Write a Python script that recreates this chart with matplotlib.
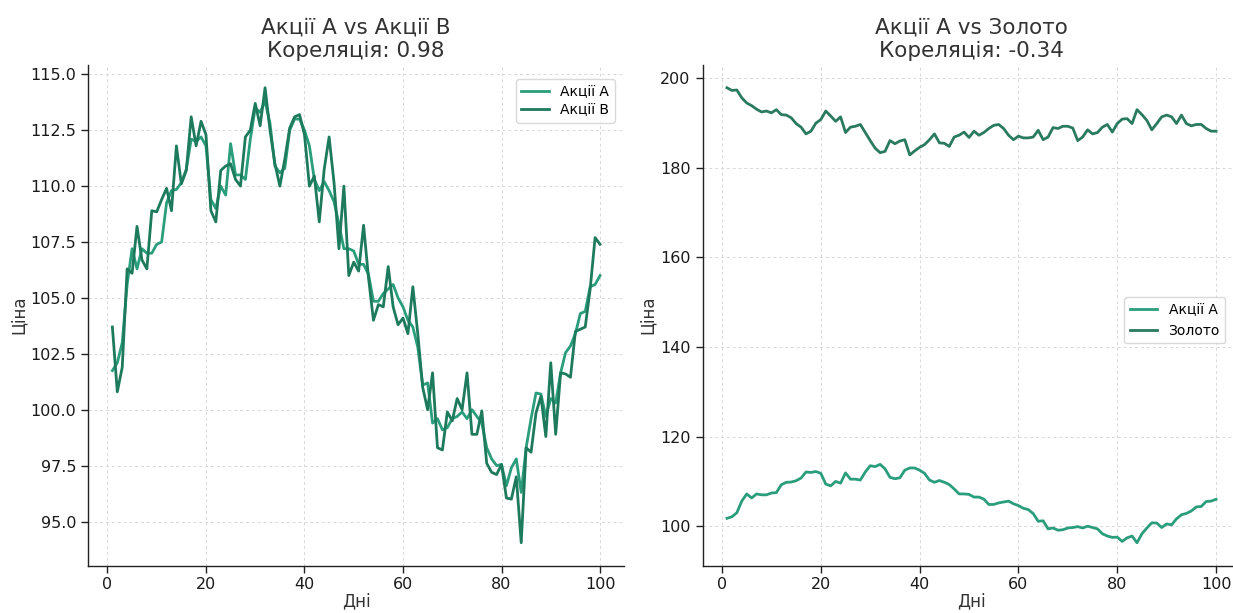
import numpy as np
import matplotlib
matplotlib.use("Agg")
import matplotlib.pyplot as plt

days = list(range(1, 101))

stock_a = [
    101.75, 102.1, 103.0, 105.6, 107.2, 106.3, 107.2, 107.0, 107.0, 107.4,
    107.5, 109.25, 109.8, 109.85, 110.15, 110.75, 112.1, 112.0, 112.2, 111.8,
    109.4, 109.0, 110.0, 109.6, 111.9, 110.5, 110.5, 110.3, 112.1, 113.5,
    113.3, 113.8, 112.8, 110.9, 110.6, 110.8, 112.5, 113.0, 113.0, 112.5,
    111.8, 110.3, 109.8, 110.2, 109.8, 109.3, 108.3, 107.2, 107.2, 107.1,
    106.5, 106.5, 106.05, 104.85, 104.85, 105.2, 105.4, 105.6, 105.0, 104.6,
    104.0, 103.7, 102.8, 101.1, 101.2, 99.4, 99.6, 99.1, 99.2, 99.6,
    99.7, 99.9, 99.6, 100.0, 99.7, 99.4, 98.3, 97.8, 97.5, 97.55,
    96.6, 97.4, 97.8, 96.3, 98.3, 99.6, 100.75, 100.7, 99.7, 100.5,
    100.3, 101.65, 102.55, 102.85, 103.4, 104.3, 104.4, 105.5, 105.6, 106.0,
]

stock_b = [
    103.7, 100.8, 101.9, 106.3, 106.1, 108.2, 106.7, 106.3, 108.9, 108.85,
    109.4, 109.9, 108.9, 111.8, 110.1, 110.7, 113.1, 111.8, 112.9, 112.3,
    108.9, 108.4, 110.7, 110.9, 111.0, 110.3, 110.0, 112.2, 112.5, 113.7,
    112.7, 114.4, 112.5, 111.0, 110.0, 111.2, 112.6, 113.1, 113.2, 112.3,
    110.0, 110.45, 108.4, 110.75, 112.2, 110.15, 107.2, 110.0, 106.0, 106.6,
    106.2, 108.25, 105.9, 104.0, 104.7, 104.6, 106.4, 104.6, 103.8, 104.1,
    103.4, 105.5, 103.4, 101.0, 100.0, 101.65, 98.3, 98.2, 99.9, 99.5,
    100.5, 100.0, 101.65, 98.9, 98.9, 99.95, 97.6, 97.2, 97.1, 97.55,
    96.05, 96.0, 97.0, 94.05, 98.3, 98.1, 99.85, 100.6, 98.8, 102.1,
    98.9, 101.65, 101.6, 101.45, 103.5, 103.6, 103.7, 105.4, 107.7, 107.4,
]

gold = [
    197.9, 197.3, 197.4, 195.65, 194.5, 193.9, 193.1, 192.5, 192.7, 192.3,
    193.0, 191.9, 191.8, 191.2, 189.9, 189.1, 187.6, 188.2, 190.0, 190.8,
    192.7, 191.6, 190.4, 191.4, 187.9, 189.1, 189.3, 189.7, 187.9, 186.1,
    184.4, 183.4, 183.7, 186.1, 185.4, 186.0, 186.3, 182.9, 183.8, 184.6,
    185.2, 186.3, 187.6, 185.6, 185.5, 184.8, 186.9, 187.3, 188.0, 186.8,
    188.2, 187.3, 187.9, 188.8, 189.5, 189.7, 188.8, 187.3, 186.3, 187.1,
    186.7, 186.7, 186.9, 188.4, 186.3, 186.9, 189.0, 188.8, 189.3, 189.3,
    188.9, 186.1, 186.9, 188.5, 187.6, 187.9, 189.1, 189.7, 188.0, 189.9,
    190.9, 191.0, 189.9, 193.0, 191.9, 190.6, 188.5, 189.9, 191.4, 191.8,
    191.4, 189.9, 191.8, 189.9, 189.4, 189.7, 189.7, 188.8, 188.2, 188.2,
]

label_a = "Акції A"
label_b = "Акції B"
label_gold = "Золото"
title_left = "Акції A vs Акції B\nКореляція: 0.98"
title_right = "Акції A vs Золото\nКореляція: -0.34"
xlabel = "Дні"
ylabel = "Ціна"

col_a = "#2a9d7c"
col_b = "#1d7a5c"
col_gold = "#2a7a60"

plt.rcParams['font.family'] = ['DejaVu Sans']

fig = plt.figure(figsize=(12.33, 6.13), dpi=100)
W, H = 1233, 613
ax1 = fig.add_axes([88 / W, 1 - 565.5 / H, (624.4 - 88) / W, 500.5 / H])
ax2 = fig.add_axes([702.5 / W, 1 - 565.5 / H, (1240.5 - 702.5) / W, 500.5 / H])


def style(ax):
    for s in ["top", "right"]:
        ax.spines[s].set_visible(False)
    for s in ["left", "bottom"]:
        ax.spines[s].set_color("#222222")
        ax.spines[s].set_linewidth(1.0)
    ax.grid(True, linestyle=(0, (3, 3)), color="#d8d8d8", linewidth=0.7)
    ax.set_axisbelow(True)
    ax.tick_params(axis="both", labelsize=11.5, colors="#222222",
                   labelcolor="#1a1a1a", direction="out", length=5, width=1)
    ax.set_xlabel(xlabel, fontsize=12, color="#333333", labelpad=0)
    ax.set_ylabel(ylabel, fontsize=12, color="#333333", labelpad=2)


ax1.plot(days, stock_a, color=col_a, linewidth=2, label=label_a)
ax1.plot(days, stock_b, color=col_b, linewidth=2, label=label_b)
style(ax1)
ax1.set_title(title_left, fontsize=15.5, color="#333333", pad=6)
ax1.legend(loc="upper right", fontsize=10, frameon=True, edgecolor="#d0d0d0",
           labelspacing=0.3, bbox_to_anchor=(0.995, 0.985))
ax1.set_xticks([0, 20, 40, 60, 80, 100])

ax2.plot(days, stock_a, color=col_a, linewidth=2, label=label_a)
ax2.plot(days, gold, color=col_gold, linewidth=2, label=label_gold)
style(ax2)
ax2.set_title(title_right, fontsize=15.5, color="#333333", pad=6)
ax2.legend(loc="center right", fontsize=10, frameon=True, edgecolor="#d0d0d0",
           bbox_to_anchor=(0.985, 0.49))
ax2.set_xticks([0, 20, 40, 60, 80, 100])

fig.savefig("out.png", dpi=100)
